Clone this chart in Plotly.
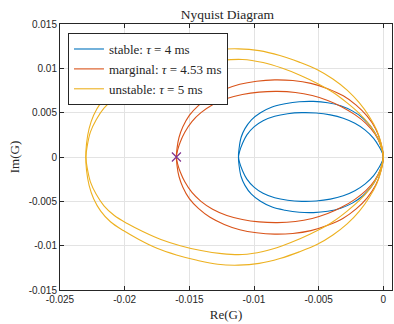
import plotly.graph_objects as go

# The lower half of the Nyquist diagram is the mirror image (negative frequencies).
blue_outer_x = [-0.0112, -0.01115, -0.0110, -0.0107, -0.0102, -0.0095, -0.0086, -0.0076, -0.0065, -0.0054,
                -0.0043, -0.0033, -0.0024, -0.0016, -0.00095, -0.00045, -0.00012, 0.0]
blue_outer_y = [0.0, 0.0010, 0.0022, 0.0032, 0.0042, 0.0050, 0.00565, 0.0060, 0.00623, 0.00627,
                0.00612, 0.00578, 0.0052, 0.0044, 0.0034, 0.0022, 0.0010, 0.0]
blue_inner_x = [-0.0112, -0.0111, -0.0109, -0.01055, -0.0100, -0.0093, -0.0084, -0.0074, -0.0063, -0.0052,
                -0.0041, -0.0031, -0.0022, -0.0014, -0.00075, -0.0003, -0.00006, 0.0]
blue_inner_y = [0.0, 0.0007, 0.0015, 0.0025, 0.0034, 0.0041, 0.0046, 0.00488, 0.0050, 0.00496,
                0.00475, 0.00437, 0.0038, 0.00303, 0.0021, 0.0011, 0.0004, 0.0]

red_outer_x = [-0.0160, -0.01595, -0.0158, -0.0155, -0.0150, -0.0143, -0.0134, -0.0123, -0.0111, -0.0098,
               -0.0084, -0.0070, -0.0056, -0.0043, -0.0031, -0.0021, -0.00125, -0.0006, -0.0002, 0.0]
red_outer_y = [0.0, 0.0010, 0.0022, 0.0034, 0.0047, 0.0058, 0.0068, 0.0076, 0.0082, 0.00855,
               0.0087, 0.00862, 0.0083, 0.0077, 0.0069, 0.00585, 0.0046, 0.0032, 0.00165, 0.0]
red_inner_x = [-0.0160, -0.0159, -0.0157, -0.01535, -0.0148, -0.0141, -0.0132, -0.0121, -0.0109, -0.0096,
               -0.0082, -0.0068, -0.0055, -0.0043, -0.0032, -0.0022, -0.00135, -0.00065, -0.0002, 0.0]
red_inner_y = [0.0, 0.0008, 0.0017, 0.0028, 0.0040, 0.0050, 0.0059, 0.0066, 0.00705, 0.00732,
               0.0074, 0.00728, 0.00693, 0.00638, 0.00565, 0.00478, 0.0038, 0.0026, 0.0013, 0.0]

yel_outer_x = [-0.0230, -0.02295, -0.02275, -0.0224, -0.02185, -0.0211, -0.0201, -0.0189, -0.0175, -0.0160,
               -0.0144, -0.0128, -0.0112, -0.0096, -0.0080, -0.0065, -0.0051, -0.0039, -0.0028, -0.00185,
               -0.0011, -0.0005, -0.00015, 0.0]
yel_outer_y = [0.0, 0.0015, 0.0032, 0.0047, 0.0061, 0.0073, 0.0083, 0.0093, 0.0103, 0.01105,
               0.01165, 0.0121, 0.0122, 0.0120, 0.01145, 0.0107, 0.00985, 0.0088, 0.00755, 0.0061,
               0.0046, 0.0030, 0.0014, 0.0]
yel_inner_x = [-0.0230, -0.0229, -0.02265, -0.0222, -0.0216, -0.0208, -0.0198, -0.0186, -0.0172, -0.0157,
               -0.0141, -0.0125, -0.0109, -0.0093, -0.0078, -0.0064, -0.0051, -0.0039, -0.0028, -0.00185,
               -0.00105, -0.00045, -0.00012, 0.0]
yel_inner_y = [0.0, 0.0012, 0.0028, 0.0042, 0.0055, 0.0066, 0.0075, 0.0084, 0.0093, 0.0100,
               0.01055, 0.0109, 0.0110, 0.01065, 0.0100, 0.0092, 0.0083, 0.0073, 0.0061, 0.0049,
               0.0036, 0.0022, 0.0009, 0.0]

series_names = ["stable: <i>τ</i> = 4 ms", "marginal: <i>τ</i> = 4.53 ms", "unstable: <i>τ</i> = 5 ms"]
series_colors = ["#0072BD", "#D95319", "#EDB120"]

critical_x = [-0.016]
critical_y = [0.0]

x_ticks = [-0.025, -0.02, -0.015, -0.01, -0.005, 0]
x_labels = ["-0.025", "-0.02", "-0.015", "-0.01", "-0.005", "0"]
y_ticks = [0.015, 0.01, 0.005, 0, -0.005, -0.01, -0.015]
y_labels = ["0.015", "0.01", "0.005", "0", "-0.005", "-0.01", "-0.015"]


def loops(ox, oy, ix, iy):
    # positive-frequency loop: origin -> upper outer arc -> left crossing -> lower arc -> origin
    ax = list(reversed(ox)) + ix[1:]
    ay = list(reversed(oy)) + [-v for v in iy[1:]]
    # negative-frequency loop is its mirror image
    bx = list(ax)
    by = [-v for v in ay]
    return ax + [None] + bx, ay + [None] + by


fig = go.Figure()
data = [(blue_outer_x, blue_outer_y, blue_inner_x, blue_inner_y),
        (red_outer_x, red_outer_y, red_inner_x, red_inner_y),
        (yel_outer_x, yel_outer_y, yel_inner_x, yel_inner_y)]
for (ox, oy, ix, iy), name, col in zip(data, series_names, series_colors):
    xs, ys = loops(ox, oy, ix, iy)
    fig.add_trace(go.Scatter(x=xs, y=ys, mode="lines", name=name,
                             line=dict(color=col, width=1.1, shape="spline", smoothing=1.0),
                             connectgaps=False))

fig.add_trace(go.Scatter(x=critical_x, y=critical_y, mode="markers", showlegend=False,
                         marker=dict(symbol="x-thin", size=9, line=dict(color="#7E2F8E", width=1.2))))

serif = "Liberation Serif, Times New Roman, serif"
axis_common = dict(showgrid=True, gridcolor="#e3e3e3", gridwidth=1, zeroline=False,
                   showline=True, linecolor="#262626", linewidth=1, mirror="ticks",
                   ticks="inside", ticklen=4, tickcolor="#262626",
                   tickfont=dict(family="Liberation Sans, Arial", size=10, color="#262626"))

fig.update_layout(
    width=394, height=324,
    margin=dict(l=60, r=2, t=24, b=34, autoexpand=False),
    paper_bgcolor="white", plot_bgcolor="white",
    title=dict(text="Nyquist Diagram", x=0.577, xanchor="center", y=0.957, yanchor="middle",
               font=dict(family=serif, size=13.5, color="#262626")),
    xaxis=dict(range=[-0.025, 0.00067], tickvals=x_ticks, ticktext=x_labels,
               title=dict(text="Re(G)", standoff=5, font=dict(family=serif, size=13, color="#262626")),
               **axis_common),
    yaxis=dict(range=[-0.015, 0.015], tickvals=y_ticks, ticktext=y_labels,
               title=dict(text="Im(G)", standoff=6, font=dict(family=serif, size=13, color="#262626")),
               **axis_common),
    legend=dict(x=0.024, y=0.966, xanchor="left", yanchor="top",
                bgcolor="white", bordercolor="#262626", borderwidth=1,
                font=dict(family=serif, size=13, color="#262626"),
                itemwidth=30, tracegroupgap=0),
    showlegend=True,
)

fig.write_html("out.html", config={"displayModeBar": False},
               post_script="document.body.style.margin='0';document.body.style.overflow='hidden';")
